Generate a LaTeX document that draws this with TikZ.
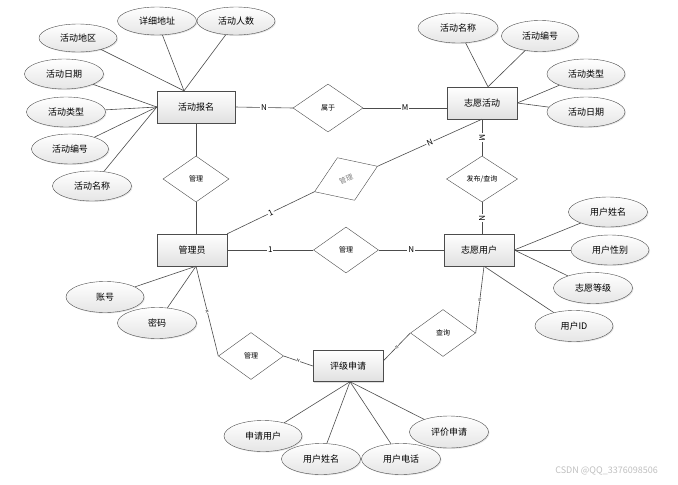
\documentclass[tikz,border=0pt]{standalone}
\usepackage{fontspec}
\setmainfont{Noto Sans CJK SC}
\usetikzlibrary{shapes.geometric,calc,shadows}

\begin{document}
\begin{tikzpicture}[x=1pt,y=-1pt,
  ent/.style={draw=black!70,top color=white,bottom color=black!12,minimum width=70pt,minimum height=32pt,inner sep=0pt,font=\fontsize{9}{10}\selectfont,drop shadow={opacity=.25,shadow xshift=1pt,shadow yshift=-1pt}},
  attr/.style={ellipse,draw=black!70,top color=white,bottom color=black!10,minimum width=79pt,minimum height=30pt,inner sep=0pt,font=\fontsize{9}{10}\selectfont,drop shadow={opacity=.2,shadow xshift=1pt,shadow yshift=-1pt}},
  rel/.style={diamond,draw=black!70,fill=white,minimum width=66pt,minimum height=46pt,inner sep=0pt,font=\fontsize{7}{8}\selectfont},
  card/.style={fill=white,inner sep=1pt,font=\fontsize{8}{8}\selectfont},
  tick/.style={fill=white,inner sep=0.3pt,sloped,font=\fontsize{4}{4}\selectfont},
  con/.style={draw=black!70,line width=0.6pt}]
\useasboundingbox (0,0) rectangle (678,485);
%实体
\node[ent,minimum width=78pt] (reg) at (196,107) {活动报名};
\node[ent] (act) at (482,103) {志愿活动};
\node[ent] (adm) at (192,250) {管理员};
\node[ent] (usr) at (479,250) {志愿用户};
\node[ent,minimum height=31pt] (app) at (348,366) {评级申请};
%联系
\node[rel,minimum width=70pt,minimum height=48pt] (belong) at (328,108) {属于};
\node[rel] (mgrA) at (196,179) {管理};
\node[rel,minimum width=71pt] (pub) at (482,179) {发布/查询};
\node[rel,minimum width=68pt,rotate=22,text=black!50] (mgrB) at (346,179) {管理};
\node[rel,minimum width=65pt] (mgrC) at (346,250) {管理};
\node[rel,minimum width=65pt,minimum height=47pt] (mgrD) at (251,356) {管理};
\node[rel,minimum width=65pt,minimum height=47pt] (query) at (443,333) {查询};
%活动报名的属性
\node[attr,minimum width=78pt,minimum height=28pt] (rArea) at (78,38) {活动地区};
\node[attr,minimum height=28pt] (rAddr) at (157,21) {详细地址};
\node[attr,minimum width=78pt,minimum height=28pt] (rNum) at (236,21) {活动人数};
\node[attr] (rDate) at (64,74) {活动日期};
\node[attr] (rType) at (66,112) {活动类型};
\node[attr,minimum width=77pt] (rId) at (70,149) {活动编号};
\node[attr] (rName) at (92,186) {活动名称};
%志愿活动的属性
\node[attr,minimum width=80pt] (aName) at (458,28) {活动名称};
\node[attr,minimum width=77pt,minimum height=31pt] (aId) at (540,36) {活动编号};
\node[attr,minimum width=78pt] (aType) at (586,74) {活动类型};
\node[attr,minimum width=78pt] (aDate) at (586,112) {活动日期};
%志愿用户的属性
\node[attr] (uName) at (608,212) {用户姓名};
\node[attr,minimum width=78pt] (uSex) at (610,250) {用户性别};
\node[attr,minimum height=31pt] (uLevel) at (593,288) {志愿等级};
\node[attr,minimum width=78pt,minimum height=31pt] (uId) at (574,326) {用户ID};
%管理员的属性
\node[attr,minimum width=78pt,minimum height=31pt] (mAcc) at (105,297) {账号};
\node[attr,minimum height=31pt] (mPwd) at (157,323) {密码};
%评级申请的属性
\node[attr,minimum width=78pt,minimum height=31pt] (pUser) at (263,436) {申请用户};
\node[attr,minimum height=31pt] (pName) at (321,459) {用户姓名};
\node[attr,minimum height=31pt] (pTel) at (401,459) {用户电话};
\node[attr,minimum height=32pt] (pEval) at (449,432) {评价申请};
%连接点
\coordinate (regtop) at ($(reg.north)+(-12,0)$);
\coordinate (acttop) at ($(act.north)+(6,0)$);
\coordinate (usrbot) at ($(usr.south)+(5,0)$);
\coordinate (admbot) at ($(adm.south)+(4,0)$);
\coordinate (appbot) at ($(app.south)+(2,0)$);
\coordinate (appright) at ($(app.east)+(0,-5)$);
%属性连线
\foreach \a in {rArea,rAddr,rNum} \draw[con] (\a) -- (regtop);
\foreach \a in {rDate,rType,rId,rName} \draw[con] (\a) -- (reg.west);
\foreach \a in {aName,aId} \draw[con] (\a) -- (acttop);
\foreach \a in {aType,aDate} \draw[con] (\a) -- (act.east);
\foreach \a in {uName,uSex,uLevel} \draw[con] (\a) -- (usr.east);
\draw[con] (uId) -- (usrbot);
\foreach \a in {mAcc,mPwd} \draw[con] (\a) -- (admbot);
\foreach \a in {pUser,pName,pTel,pEval} \draw[con] (\a) -- (appbot);
%联系连线
\draw[con] (reg.east) -- node[card]{N} (belong.west);
\draw[con] (belong.east) -- node[card]{M} (belong.east -| act.west);
\draw[con] (reg.south) -- (mgrA.north);
\draw[con] (mgrA.south) -- (mgrA.south |- adm.north);
\draw[con] (act.south) -- node[card,rotate=-90]{M} (pub.north);
\draw[con] (pub.south) -- node[card,rotate=-90]{N} (pub.south |- usr.north);
\draw[con] (adm.north east) -- node[card,sloped]{1} (mgrB.west);
\draw[con] (mgrB.east) -- node[card,sloped]{N} (act.south);
\draw[con] (adm.east) -- node[card]{1} (mgrC.west);
\draw[con] (mgrC.east) -- node[card]{N} (usr.west);
\draw[con] (admbot) -- node[tick]{N} (mgrD.west);
\draw[con] (mgrD.east) -- node[tick]{N} (app.west);
\draw[con] (appright) -- node[tick]{N} (query.west);
\draw[con] (query.east) -- node[tick]{N} (usrbot);
%水印
\node[text=black!25,anchor=east,inner sep=0pt,font=\fontsize{9}{9}\selectfont] (mark) at (658,471) {CSDN @QQ\_3376098506};
\end{tikzpicture}
\end{document}
